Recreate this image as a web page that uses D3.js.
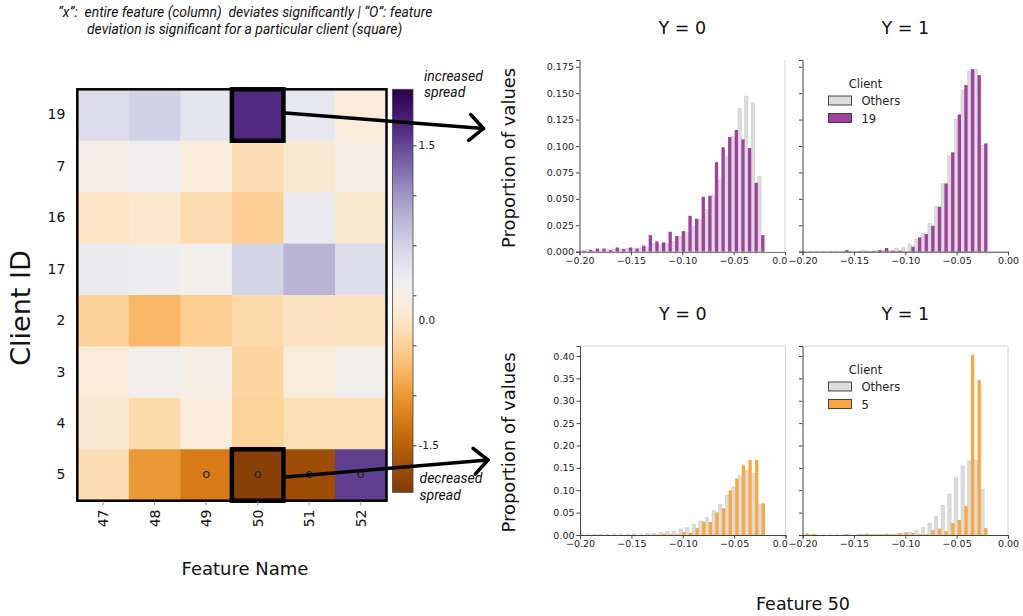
<!DOCTYPE html>
<html>
<head>
<meta charset="utf-8">
<script src="https://cdn.jsdelivr.net/npm/d3@7"></script>
<style>
  body { margin: 0; background: #fff; }
  svg { display: block; }
</style>
</head>
<body>
<svg id="chart" width="1023" height="616" font-family="DejaVu Sans, sans-serif"></svg>
<script>
// ---- heatmap data
const featureNames = ["47", "48", "49", "50", "51", "52"];
const clientIds = ["19", "7", "16", "17", "2", "3", "4", "5"];
// spread deviation, one row per client (same order as clientIds)
const spreadValues = [
  [0.39, 0.51, 0.29, 1.68, 0.25, -0.12],
  [-0.03, 0.12, -0.12, -0.36, -0.18, -0.02],
  [-0.26, -0.20, -0.37, -0.52, 0.18, -0.18],
  [0.20, 0.15, 0.07, 0.48, 0.77, 0.38],
  [-0.49, -0.74, -0.53, -0.40, -0.27, -0.29],
  [-0.12, 0.06, -0.02, -0.46, -0.10, 0.06],
  [-0.16, -0.40, -0.12, -0.48, -0.34, -0.34],
  [-0.36, -1.00, -1.24, -1.89, -1.73, 1.55]
];
const markedCells = [["5", "49"], ["5", "50"], ["5", "51"], ["5", "52"]];
const boxedCells = [["19", "50"], ["5", "50"]];
const colorbarTicks = [-1.5, -1, -0.5, 0, 0.5, 1, 1.5];

// ---- histogram data (feature 50), proportion per bin
const binLeft = -0.2003;
const binWidth = 0.00644;
const xTicks = [-0.2, -0.15, -0.1, -0.05, 0];
const yTicksTop = [0, 0.025, 0.05, 0.075, 0.1, 0.125, 0.15, 0.175];
const yTicksBottom = [0, 0.05, 0.1, 0.15, 0.2, 0.25, 0.3, 0.35, 0.4];

const others19Y0 = [0.0015, 0.002, 0.001, 0.0015, 0.002, 0.002, 0.0025, 0.003, 0.003, 0.0035, 0.004, 0.008, 0.0066, 0.0076, 0.0094, 0.0142, 0.018, 0.024, 0.0302, 0.0397, 0.0538, 0.068, 0.0907, 0.109, 0.1357, 0.1473, 0.1407, 0.0715];
const client19Y0 = [0.001, 0.0016, 0.003, 0.003, 0.0015, 0.004, 0.0025, 0.004, 0.003, 0.0057, 0.0157, 0.0098, 0.0088, 0.0189, 0.0148, 0.0195, 0.034, 0.0312, 0.0519, 0.0529, 0.0847, 0.0988, 0.1086, 0.1152, 0.1064, 0.0982, 0.0652, 0.0157];
const others19Y1 = [0.0005, 0.0005, 0.0005, 0.0005, 0.0005, 0.0005, 0.0005, 0.0005, 0.0005, 0.001, 0.0005, 0.001, 0.001, 0.0015, 0.003, 0.004, 0.0073, 0.012, 0.0173, 0.0268, 0.0426, 0.0646, 0.0908, 0.1252, 0.153, 0.1703, 0.1728, 0.1006];
const client19Y1 = [0, 0, 0, 0, 0, 0, 0.0015, 0, 0.0005, 0.0005, 0.0005, 0.0015, 0.0035, 0.001, 0.001, 0, 0.0047, 0.0136, 0.0167, 0.0246, 0.0426, 0.0646, 0.094, 0.1299, 0.1577, 0.1728, 0.1671, 0.1025];
const others5Y0 = [0.001, 0.001, 0.0015, 0.0015, 0.0015, 0.002, 0.002, 0.002, 0.002, 0.002, 0.0037, 0.0037, 0.006, 0.0074, 0.0089, 0.0134, 0.0171, 0.0238, 0.0313, 0.0395, 0.0544, 0.0685, 0.0894, 0.1073, 0.1333, 0.1437, 0.137, 0.0693];
const client5Y0 = [0, 0, 0, 0, 0, 0, 0, 0, 0, 0, 0.001, 0.001, 0.003, 0.002, 0.0015, 0.0067, 0.0052, 0.0156, 0.0298, 0.029, 0.0507, 0.0596, 0.0998, 0.1266, 0.1557, 0.1676, 0.1676, 0.0708];
const others5Y1 = [0.0005, 0.0005, 0.0005, 0.0005, 0.0005, 0.0005, 0.0005, 0.0005, 0.0005, 0.001, 0.001, 0.0015, 0.0015, 0.002, 0.002, 0.0037, 0.006, 0.0112, 0.0171, 0.0268, 0.0417, 0.0663, 0.0916, 0.1281, 0.1542, 0.1654, 0.1676, 0.1028];
const client5Y1 = [0.0035, 0.0025, 0, 0, 0, 0, 0.002, 0, 0.002, 0.003, 0.0015, 0.002, 0.003, 0.002, 0.0045, 0.006, 0.0045, 0.002, 0.0022, 0.0104, 0.0142, 0.0089, 0.0268, 0.0335, 0.0648, 0.4022, 0.3464, 0.0156];

const othersColor = "#dcdcdc";
const purpleColor = "#a040a0";
const orangeColor = "#fba641";
const noteFont = "Roboto, 'Open Sans', sans-serif";

const svg = d3.select("#chart");
svg.append("rect").attr("width", 1023).attr("height", 616).attr("fill", "#fff");

// ---------------- heatmap ----------------
const hx = d3.scaleBand().domain(featureNames).range([77.3, 386.5]);
const hy = d3.scaleBand().domain(clientIds).range([89.3, 500.7]);
const cbScale = d3.scaleLinear().domain([-1.97, 2.06]).range([492.3, 89.3]);
// PuOr: purple for increased spread, orange/brown for decreased
const colorScale = d3.scaleSequential(d3.interpolatePuOr).domain([2.06, -1.97]);

const cells = [];
clientIds.forEach((c, i) => featureNames.forEach((f, j) => cells.push({ client: c, feature: f, value: spreadValues[i][j] })));

const heat = svg.append("g");
heat.selectAll("rect.cell")
  .data(cells).join("rect")
  .attr("class", "cell")
  .attr("x", d => hx(d.feature))
  .attr("y", d => hy(d.client))
  .attr("width", hx.bandwidth() + 0.5)
  .attr("height", hy.bandwidth() + 0.5)
  .attr("fill", d => colorScale(d.value));

heat.selectAll("text.mark")
  .data(markedCells).join("text")
  .attr("class", "mark")
  .attr("x", d => hx(d[1]) + hx.bandwidth() / 2)
  .attr("y", d => hy(d[0]) + hy.bandwidth() / 2)
  .attr("text-anchor", "middle")
  .attr("dy", "0.2em")
  .attr("font-size", 13)
  .attr("fill", "#222")
  .text("o");

heat.append("rect")
  .attr("x", 77.3).attr("y", 89.3)
  .attr("width", hx.range()[1] - hx.range()[0])
  .attr("height", hy.range()[1] - hy.range()[0])
  .attr("fill", "none").attr("stroke", "#000").attr("stroke-width", 2.5);

heat.selectAll("rect.box")
  .data(boxedCells).join("rect")
  .attr("class", "box")
  .attr("x", d => hx(d[1]))
  .attr("y", d => hy(d[0]))
  .attr("width", hx.bandwidth())
  .attr("height", hy.bandwidth())
  .attr("fill", "none").attr("stroke", "#000").attr("stroke-width", 4.5);

// heatmap axes
svg.append("g")
  .attr("transform", "translate(77.3,0)")
  .call(d3.axisLeft(hy).tickSize(0).tickPadding(12))
  .call(g => g.select(".domain").remove())
  .call(g => g.selectAll("text").attr("font-size", 14).attr("fill", "#111").attr("font-family", "DejaVu Sans"));

svg.append("g")
  .attr("transform", "translate(0,501.5)")
  .call(d3.axisBottom(hx).tickSize(4).tickPadding(0))
  .call(g => g.select(".domain").remove())
  .call(g => g.selectAll("line").attr("stroke", "#999"))
  .call(g => g.selectAll("text")
    .attr("font-size", 14).attr("fill", "#111").attr("font-family", "DejaVu Sans")
    .attr("transform", "rotate(-90)")
    .attr("text-anchor", "end")
    .attr("x", -8).attr("y", 0).attr("dy", "0.36em"));

svg.append("text")
  .attr("x", 245).attr("y", 575)
  .attr("text-anchor", "middle").attr("font-size", 18).attr("fill", "#111")
  .text("Feature Name");

svg.append("text")
  .attr("transform", "translate(30,308) rotate(-90)")
  .attr("text-anchor", "middle").attr("font-size", 27).attr("fill", "#111")
  .text("Client ID");

// ---------------- colorbar ----------------
const grad = svg.append("defs").append("linearGradient")
  .attr("id", "cbGrad").attr("x1", 0).attr("y1", 1).attr("x2", 0).attr("y2", 0);
grad.selectAll("stop")
  .data(d3.range(0, 1.0001, 0.02)).join("stop")
  .attr("offset", t => t)
  .attr("stop-color", t => colorScale(cbScale.domain()[0] + t * (cbScale.domain()[1] - cbScale.domain()[0])));

svg.append("rect")
  .attr("x", 392.5).attr("y", 89.3)
  .attr("width", 20.5).attr("height", 403)
  .attr("fill", "url(#cbGrad)").attr("stroke", "#444").attr("stroke-width", 0.8);

svg.append("g")
  .attr("transform", "translate(413,0)")
  .call(d3.axisRight(cbScale).tickValues(colorbarTicks).tickSize(3.5).tickPadding(2)
    .tickFormat(d => Math.abs(d) === 1.5 ? d.toFixed(1) : ""))
  .call(g => g.select(".domain").remove())
  .call(g => g.selectAll("line").attr("stroke", "#444"))
  .call(g => g.selectAll("text").attr("font-size", 10.5).attr("fill", "#222").attr("font-family", "DejaVu Sans"));

// the "0.0" label sits a little below its tick in the original
svg.append("text")
  .attr("x", 418.5).attr("y", cbScale(0) + 25).attr("dy", "0.32em")
  .attr("font-size", 10.5).attr("fill", "#222")
  .text("0.0");

[["increased", 424, 81], ["spread", 424, 97], ["decreased", 419.5, 483], ["spread", 419.5, 500]].forEach(([t, x, y]) =>
  svg.append("text").attr("x", x).attr("y", y).attr("font-size", 14)
    .attr("font-style", "italic").style("font-family", noteFont).attr("fill", "#111").text(t));

// top note
[["\u201Cx\u201D:  entire feature (column)  deviates significantly | \u201CO\u201D: feature", 58, 17],
 ["deviation is significant for a particular client (square)", 87, 34]].forEach(([t, x, y]) =>
  svg.append("text").attr("x", x).attr("y", y)
    .attr("font-size", 13.9).attr("font-style", "italic").style("font-family", noteFont)
    .attr("fill", "#111").style("white-space", "pre").text(t));

// ---------------- histograms ----------------
const topY = d3.scaleLinear().domain([0, 0.1814]).range([251.7, 60]);
const botY = d3.scaleLinear().domain([0, 0.4223]).range([535, 346]);
const panelW = 205.5;

const panels = [
  { x0: 579.5, y: topY, yTicks: yTicksTop, fmt: ".3f", others: others19Y0, client: client19Y0, color: purpleColor, title: "Y = 0", first: true, frame: "right" },
  { x0: 802.5, y: topY, yTicks: yTicksTop, fmt: ".3f", others: others19Y1, client: client19Y1, color: purpleColor, title: "Y = 1", legend: "19", frame: "none" },
  { x0: 580, y: botY, yTicks: yTicksBottom, fmt: ".2f", others: others5Y0, client: client5Y0, color: orangeColor, title: "Y = 0", first: true, frame: "box" },
  { x0: 802.5, y: botY, yTicks: yTicksBottom, fmt: ".2f", others: others5Y1, client: client5Y1, color: orangeColor, title: "Y = 1", legend: "5", frame: "box" }
];

// left panels' last tick label is cut by the right panel in the original
svg.select("defs").append("clipPath").attr("id", "leftClip")
  .append("rect").attr("x", 0).attr("y", 0).attr("width", 788).attr("height", 616);

function drawPanel(p) {
  const x = d3.scaleLinear().domain([-0.2, 0]).range([p.x0, p.x0 + panelW]);
  const y = p.y;
  const g = svg.append("g");
  const [yBase, yTop] = y.range();

  // light frame lines
  if (p.frame === "box") {
    g.append("path")
      .attr("d", `M${x(-0.2)},${yTop}H${x(0)}V${yBase}`)
      .attr("fill", "none").attr("stroke", "#d4d4d4").attr("stroke-width", 1);
  } else if (p.frame === "right") {
    g.append("path")
      .attr("d", `M${x(0)},${yTop}V${yBase}`)
      .attr("fill", "none").attr("stroke", "#d4d4d4").attr("stroke-width", 1);
  }

  const bins = p.others.map((v, i) => ({ lo: binLeft + i * binWidth, others: v, client: p.client[i] }));
  const clampX = v => x(Math.max(-0.2, v));

  g.selectAll("rect.others").data(bins).join("rect")
    .attr("class", "others")
    .attr("x", d => clampX(d.lo))
    .attr("width", d => Math.max(0, clampX(d.lo + binWidth / 2) - clampX(d.lo)))
    .attr("y", d => y(d.others))
    .attr("height", d => yBase - y(d.others))
    .attr("fill", othersColor).attr("stroke", "#c6c6c6").attr("stroke-width", 0.5);

  g.selectAll("rect.client").data(bins).join("rect")
    .attr("class", "client")
    .attr("x", d => clampX(d.lo + binWidth / 2))
    .attr("width", d => Math.max(0, clampX(d.lo + binWidth) - clampX(d.lo + binWidth / 2)))
    .attr("y", d => y(d.client))
    .attr("height", d => yBase - y(d.client))
    .attr("fill", p.color);

  // axes; on the left panels the 0 label is cut to "0.0" as in the original
  const xa = g.append("g")
    .attr("transform", `translate(0,${yBase})`)
    .call(d3.axisBottom(x).tickValues(xTicks).tickSize(3.5).tickPadding(2)
      .tickFormat(d => p.first && d === 0 ? "0.0" : d3.format(".2f")(d)))
    .call(a => a.select(".domain").attr("stroke", "#444"))
    .call(a => a.selectAll("line").attr("stroke", "#444"))
    .call(a => a.selectAll("text").attr("font-size", 9.5).attr("fill", "#222").attr("font-family", "DejaVu Sans"));
  if (p.first) {
    xa.attr("clip-path", "url(#leftClip)");
    xa.selectAll(".tick:last-of-type text").attr("text-anchor", "end").attr("dx", "0.2em");
  }

  g.append("g")
    .attr("transform", `translate(${x(-0.2)},0)`)
    .call(d3.axisLeft(y).tickValues(p.yTicks).tickSize(3.5).tickPadding(2)
      .tickFormat(p.first ? d3.format(p.fmt) : () => ""))
    .call(a => a.select(".domain").attr("stroke", "#444"))
    .call(a => a.selectAll("line").attr("stroke", "#444"))
    .call(a => a.selectAll("text").attr("font-size", 9.5).attr("fill", "#222").attr("font-family", "DejaVu Sans"));

  // title
  g.append("text")
    .attr("x", x(-0.1)).attr("y", yTop - 26.5)
    .attr("text-anchor", "middle").attr("font-size", 17.5).attr("fill", "#111")
    .text(p.title);

  if (p.first) {
    g.append("text")
      .attr("transform", `translate(515,${(yBase + yTop) / 2 + 2}) rotate(-90)`)
      .attr("text-anchor", "middle").attr("font-size", 18).attr("fill", "#111")
      .text("Proportion of values");
  }

  if (p.legend) {
    const lx = x(-0.2) + 26, ly = yTop + 28;
    g.append("text").attr("x", lx + 37).attr("y", ly).attr("text-anchor", "middle")
      .attr("font-size", 11.5).attr("fill", "#222").text("Client");
    const items = [["Others", othersColor], [p.legend, p.color]];
    items.forEach(([label, col], i) => {
      const iy = ly + 8 + i * 17.5;
      g.append("rect").attr("x", lx).attr("y", iy)
        .attr("width", 23).attr("height", 9)
        .attr("fill", col).attr("stroke", "#333").attr("stroke-width", 0.9);
      g.append("text").attr("x", lx + 33).attr("y", iy + 9)
        .attr("font-size", 11.5).attr("fill", "#222").text(label);
    });
  }
}
panels.forEach(drawPanel);

svg.append("text")
  .attr("x", 803).attr("y", 610)
  .attr("text-anchor", "middle").attr("font-size", 17.5).attr("fill", "#111")
  .text("Feature 50");

// ---------------- arrows ----------------
const arrows = [
  { from: [hx("50") + hx.bandwidth() + 2, hy("19") + hy.bandwidth() / 2 - 2], to: [483.5, 128.5] },
  { from: [hx("50") + hx.bandwidth() + 2, hy("5") + hy.bandwidth() / 2 + 2], to: [488, 460] }
];
arrows.forEach(a => {
  const ang = Math.atan2(a.to[1] - a.from[1], a.to[0] - a.from[0]);
  const L = 19, spread = 0.75;
  const p1 = [a.to[0] - L * Math.cos(ang - spread), a.to[1] - L * Math.sin(ang - spread)];
  const p2 = [a.to[0] - L * Math.cos(ang + spread), a.to[1] - L * Math.sin(ang + spread)];
  svg.append("path")
    .attr("d", d3.line()([a.from, a.to]))
    .attr("stroke", "#000").attr("stroke-width", 3.5).attr("fill", "none").attr("stroke-linecap", "round");
  svg.append("path")
    .attr("d", d3.line()([p1, a.to, p2]))
    .attr("stroke", "#000").attr("stroke-width", 3.5).attr("fill", "none")
    .attr("stroke-linecap", "round").attr("stroke-linejoin", "round");
});
</script>
</body>
</html>
